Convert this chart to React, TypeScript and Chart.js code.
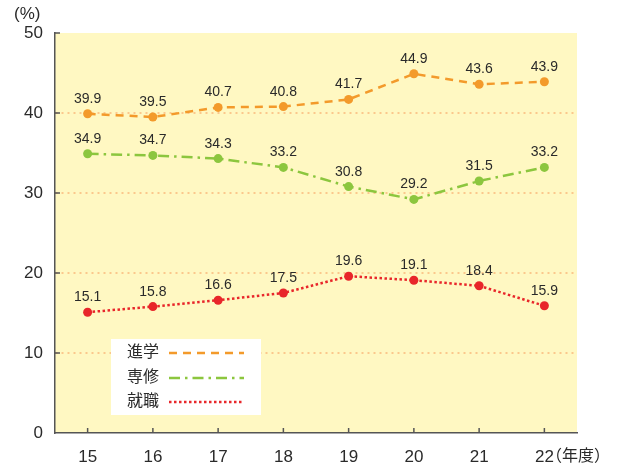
import React, { useEffect, useRef } from "react";
import { Chart, registerables } from "chart.js";

Chart.register(...registerables);

const years = ["15", "16", "17", "18", "19", "20", "21", "22"];
const shingaku = [39.9, 39.5, 40.7, 40.8, 41.7, 44.9, 43.6, 43.9];
const senshu = [34.9, 34.7, 34.3, 33.2, 30.8, 29.2, 31.5, 33.2];
const shushoku = [15.1, 15.8, 16.6, 17.5, 19.6, 19.1, 18.4, 15.9];
const seriesNames = ["進学", "専修", "就職"];
const colors = ["#F39A2B", "#8CC63E", "#E8262A"];
const dashes = [[8, 6], [11, 5, 2.5, 5], [2.5, 2.5]];

const FONT = "'Liberation Sans', 'Noto Sans CJK JP', sans-serif";
const TEXT = "#2a2a2a";

const decor = {
  id: "decor",
  beforeDraw(chart: any) {
    const { ctx, chartArea: a } = chart;
    ctx.save();
    ctx.fillStyle = "#FFF8C2";
    ctx.fillRect(a.left, a.top, a.right - a.left, a.bottom - a.top);
    ctx.restore();
  },
  afterDatasetsDraw(chart: any) {
    const { ctx, chartArea: a } = chart;
    const xs = chart.scales.x;
    const ys = chart.scales.y;
    ctx.save();
    ctx.strokeStyle = "#555";
    ctx.lineWidth = 1.5;
    years.forEach((_, i) => {
      const x = xs.getPixelForValue(i);
      ctx.beginPath();
      ctx.moveTo(x, a.bottom);
      ctx.lineTo(x, a.bottom - 5);
      ctx.stroke();
    });
    [10, 20, 30, 40, 50].forEach((v) => {
      const y = ys.getPixelForValue(v);
      ctx.beginPath();
      ctx.moveTo(a.left, y);
      ctx.lineTo(a.left + 5, y);
      ctx.stroke();
    });
    ctx.fillStyle = TEXT;
    ctx.font = "14px " + FONT;
    ctx.textAlign = "center";
    ctx.textBaseline = "alphabetic";
    chart.data.datasets.forEach((ds: any, di: number) => {
      const meta = chart.getDatasetMeta(di);
      meta.data.forEach((pt: any, i: number) => {
        ctx.fillText(ds.data[i].toFixed(1), pt.x, pt.y - 11);
      });
    });
    ctx.font = "17px " + FONT;
    ctx.fillStyle = TEXT;
    ctx.textAlign = "left";
    ctx.textBaseline = "middle";
    ctx.fillText("(%)", 14, 14);
    ctx.font = "16px " + FONT;
    ctx.fillText("（年度）", 546, 457);
    const lx = 111, ly = 339, lw = 150, lh = 76;
    ctx.fillStyle = "#FFFFFF";
    ctx.fillRect(lx, ly, lw, lh);
    const rows = [353, 378, 402];
    seriesNames.forEach((name, i) => {
      ctx.fillStyle = TEXT;
      ctx.font = "16px " + FONT;
      ctx.textAlign = "left";
      ctx.textBaseline = "middle";
      ctx.fillText(name, 127, rows[i]);
      ctx.strokeStyle = colors[i];
      ctx.lineWidth = 2.5;
      ctx.setLineDash(dashes[i]);
      ctx.beginPath();
      ctx.moveTo(169, rows[i]);
      ctx.lineTo(244, rows[i]);
      ctx.stroke();
    });
    ctx.setLineDash([]);
    ctx.restore();
  },
};

export default function App() {
  const ref = useRef<HTMLCanvasElement>(null);
  useEffect(() => {
    if (!ref.current) return;
    const data = [shingaku, senshu, shushoku];
    const chart = new Chart(ref.current, {
      type: "line",
      data: {
        labels: years,
        datasets: data.map((d, i) => ({
          label: seriesNames[i],
          data: d,
          borderColor: colors[i],
          backgroundColor: colors[i],
          borderWidth: 2.5,
          borderDash: dashes[i],
          pointRadius: 4.5,
          pointBackgroundColor: colors[i],
          pointBorderWidth: 0,
          tension: 0,
          fill: false,
        })),
      },
      options: {
        responsive: false,
        animation: false,
        layout: { padding: { top: 33, right: 46, left: 0, bottom: 0 } },
        plugins: { legend: { display: false }, tooltip: { enabled: false } },
        scales: {
          x: {
            offset: true,
            grid: { display: false, drawTicks: false, offset: true },
            border: { display: true, color: "#555", width: 1.5 },
            ticks: { color: TEXT, font: { size: 17, family: FONT }, padding: 14 },
            afterFit(s: any) { s.height = 35; },
          },
          y: {
            min: 0,
            max: 50,
            grid: {
              drawTicks: false,
              color: (c: any) => (c.tick && (c.tick.value === 0 || c.tick.value === 50) ? "rgba(0,0,0,0)" : "#FBC88C"),
              lineWidth: 2,
            },
            border: { display: true, color: "#555", width: 1.5, dash: [2, 4] },
            ticks: { stepSize: 10, color: TEXT, font: { size: 17, family: FONT }, padding: 12 },
            afterFit(s: any) { s.width = 55; },
          },
        },
      },
      plugins: [decor],
    } as any);
    return () => chart.destroy();
  }, []);
  return (
    <div style={{ position: "fixed", left: 0, top: 0, width: 623, height: 468, background: "#fff" }}>
      <canvas ref={ref} width={623} height={468} style={{ display: "block" }} />
    </div>
  );
}
